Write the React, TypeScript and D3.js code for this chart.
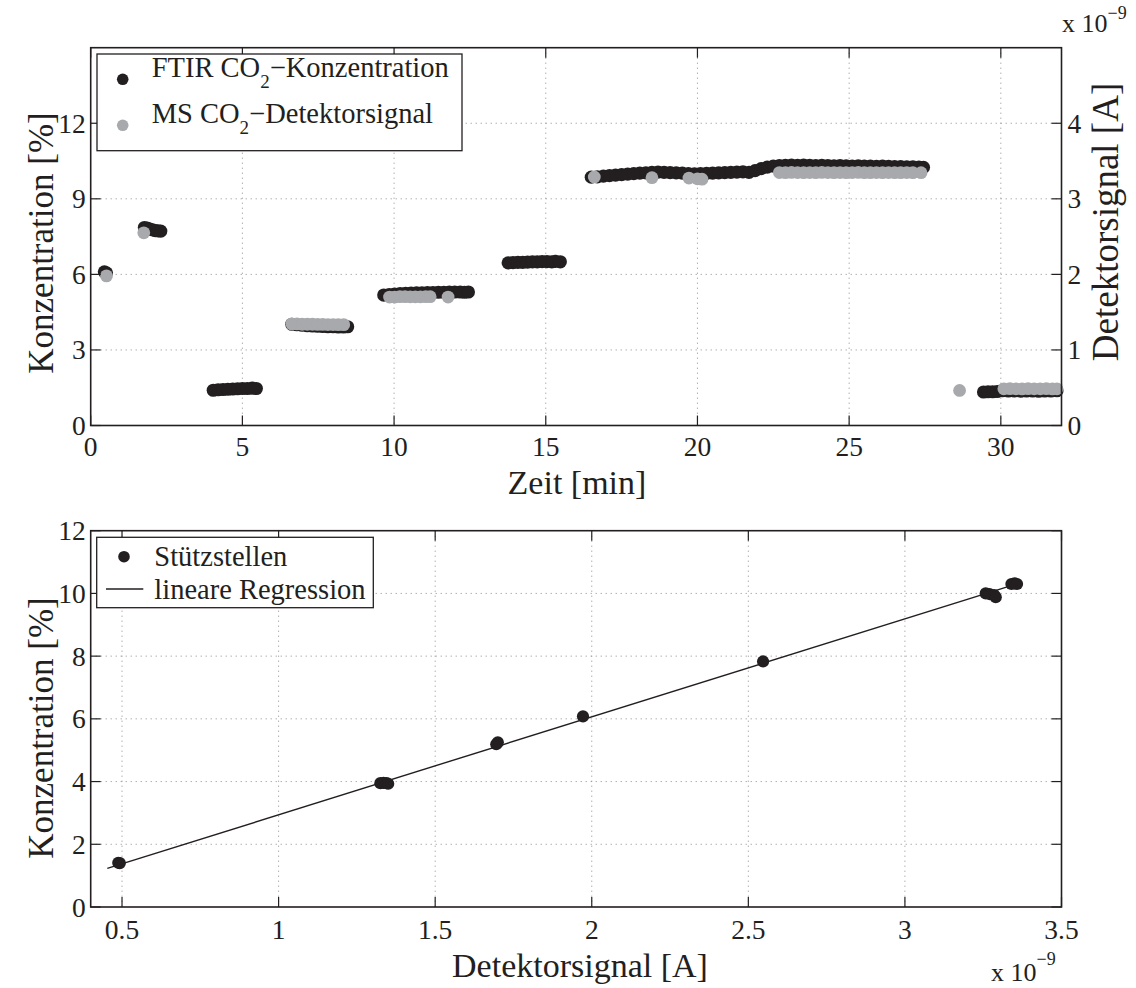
import React from 'react';
import * as d3 from 'd3';

// ---------- data ----------
const timeTicks = [0, 5, 10, 15, 20, 25, 30];
const concTicksTop = [0, 3, 6, 9, 12];
const signalTicksTop = [0, 1, 2, 3, 4];
const signalTicksBottom = [0.5, 1, 1.5, 2, 2.5, 3, 3.5];
const concTicksBottom = [0, 2, 4, 6, 8, 10, 12];

// FTIR CO2 concentration [%] over time [min]
const ftirPoints: [number, number][] = [
  [0.45, 6.1], [0.52, 6.06],
  [1.77, 7.86], [1.86, 7.84], [1.95, 7.8], [2.04, 7.77], [2.13, 7.74], [2.22, 7.73], [2.31, 7.72],
  [4.04, 1.4], [4.2, 1.42], [4.36, 1.43], [4.52, 1.44], [4.68, 1.45], [4.84, 1.46], [5.0, 1.47], [5.16, 1.47], [5.32, 1.48], [5.46, 1.47],
  [6.63, 4.02], [6.8, 4.0], [6.97, 3.98], [7.14, 3.96], [7.31, 3.95], [7.48, 3.94], [7.65, 3.93], [7.82, 3.92], [7.99, 3.92], [8.16, 3.91], [8.33, 3.91], [8.47, 3.92],
  [9.66, 5.18], [9.84, 5.2], [10.02, 5.22], [10.2, 5.24], [10.38, 5.25], [10.56, 5.26], [10.74, 5.27], [10.92, 5.27], [11.1, 5.28], [11.28, 5.28], [11.46, 5.29], [11.64, 5.29], [11.82, 5.3], [12.0, 5.3], [12.18, 5.3], [12.32, 5.29], [12.45, 5.3],
  [13.76, 6.46], [13.92, 6.47], [14.08, 6.48], [14.24, 6.48], [14.4, 6.49], [14.56, 6.5], [14.72, 6.5], [14.88, 6.51], [15.04, 6.51], [15.2, 6.5], [15.32, 6.52], [15.48, 6.5],
  [16.5, 9.86], [16.7, 9.87], [16.9, 9.9], [17.1, 9.92], [17.3, 9.94], [17.5, 9.96], [17.7, 9.98], [17.9, 10.0], [18.1, 10.02], [18.3, 10.03], [18.5, 10.05], [18.7, 10.06], [18.9, 10.05], [19.1, 10.04], [19.3, 10.03], [19.5, 10.02], [19.7, 10.0], [19.9, 9.99], [20.1, 10.0], [20.3, 10.01], [20.5, 10.02], [20.7, 10.03], [20.9, 10.04], [21.1, 10.05], [21.3, 10.06], [21.5, 10.07], [21.7, 10.05],
  [21.9, 10.12], [22.1, 10.2], [22.3, 10.26], [22.5, 10.3], [22.7, 10.32], [22.9, 10.33], [23.1, 10.34], [23.3, 10.33], [23.5, 10.34], [23.7, 10.33], [23.9, 10.32], [24.1, 10.33], [24.3, 10.32], [24.5, 10.31], [24.7, 10.32], [24.9, 10.31], [25.1, 10.3], [25.3, 10.31], [25.5, 10.3], [25.7, 10.3], [25.9, 10.29], [26.1, 10.3], [26.3, 10.29], [26.5, 10.28], [26.7, 10.28], [26.9, 10.27], [27.1, 10.27], [27.3, 10.26], [27.45, 10.25],
  [29.43, 1.33], [29.58, 1.34], [29.73, 1.34], [29.88, 1.35], [30.05, 1.38], [30.25, 1.37], [30.45, 1.37], [30.65, 1.36], [30.85, 1.37], [31.05, 1.37], [31.25, 1.36], [31.45, 1.37], [31.65, 1.37], [31.85, 1.38],
];

// MS CO2 detector signal [x1e-9 A] over time [min]
const msPoints: [number, number][] = [
  [0.52, 1.98], [1.75, 2.55],
  [6.63, 1.345], [6.8, 1.345], [6.97, 1.34], [7.14, 1.34], [7.31, 1.34], [7.48, 1.338], [7.65, 1.338], [7.82, 1.336], [7.99, 1.336], [8.16, 1.335], [8.34, 1.335],
  [9.85, 1.7], [10.02, 1.7], [10.19, 1.705], [10.36, 1.705], [10.53, 1.703], [10.7, 1.703], [10.87, 1.703], [11.04, 1.705], [11.19, 1.705], [11.78, 1.7],
  [16.6, 3.29], [18.5, 3.28], [19.72, 3.275], [20.0, 3.265], [20.15, 3.26],
  [22.7, 3.348], [22.9, 3.347], [23.1, 3.349], [23.3, 3.348], [23.5, 3.346], [23.7, 3.348], [23.9, 3.347], [24.1, 3.349], [24.3, 3.348], [24.5, 3.346], [24.7, 3.348], [24.9, 3.347], [25.1, 3.348], [25.3, 3.349], [25.5, 3.347], [25.7, 3.346], [25.9, 3.348], [26.1, 3.347], [26.3, 3.348], [26.5, 3.346], [26.7, 3.347], [26.9, 3.348], [27.1, 3.347], [27.37, 3.346],
  [28.64, 0.464],
  [30.1, 0.486], [30.3, 0.487], [30.5, 0.486], [30.7, 0.485], [30.9, 0.487], [31.1, 0.486], [31.3, 0.486], [31.5, 0.487], [31.7, 0.485], [31.85, 0.486],
];

// calibration points: detector signal [x1e-9 A] vs concentration [%]
const calibSignal = [0.488, 0.493, 1.325, 1.335, 1.345, 1.35, 1.695, 1.7, 1.972, 2.547, 3.258, 3.27, 3.285, 3.29, 3.34, 3.35, 3.358];
const calibConc = [1.41, 1.4, 3.95, 3.96, 3.95, 3.93, 5.19, 5.25, 6.08, 7.83, 10.0, 9.98, 9.95, 9.88, 10.3, 10.32, 10.3];

// linear regression: conc = slope * signal + intercept
const regressionSlope = 3.125;
const regressionIntercept = -0.186;
const regressionRange = [0.453, 3.36];

// ---------- styles ----------
const FONT = '"Liberation Serif", "Times New Roman", Times, serif';
const INK = '#231f20';
const GREY = '#a7a9ac';
const GRID = '#8c8c8c';

export default function App() {
  // top panel
  const L = 90.7, R = 1061.5;
  const xT = d3.scaleLinear().domain([0, 32]).range([L, R]);
  const yT = d3.scaleLinear().domain([0, 15]).range([425.5, 47.7]);
  const yTR = d3.scaleLinear().domain([0, 5]).range([425.5, 47.7]);
  // bottom panel
  const xB = d3.scaleLinear().domain([0.4, 3.5]).range([L, R]);
  const yB = d3.scaleLinear().domain([0, 12]).range([907, 530.7]);

  const tickLen = 10;
  const tickFont = 27.5;
  const labelFont = 34;
  const legendFont = 28.5;

  const regLine = d3.line<number>()
    .x((s) => xB(s))
    .y((s) => yB(regressionSlope * s + regressionIntercept));

  const [t0, t1] = yT.range().slice().reverse();
  const [b0, b1] = yB.range().slice().reverse();

  return (
    <svg
      width={1136}
      height={988}
      style={{ position: 'absolute', left: 0, top: 0, background: '#fff' }}
      fontFamily={FONT}
      fill={INK}
    >
      <rect x={0} y={0} width={1136} height={988} fill="#fff" />

      {/* ================= TOP PANEL ================= */}
      <g>
        {/* grid */}
        {timeTicks.filter((t) => t > 0).map((t) => (
          <line key={'gx' + t} x1={xT(t)} x2={xT(t)} y1={t0} y2={t1} stroke={GRID} strokeWidth={1} strokeDasharray="1 4" />
        ))}
        {concTicksTop.filter((c) => c > 0).map((c) => (
          <line key={'gy' + c} x1={L} x2={R} y1={yT(c)} y2={yT(c)} stroke={GRID} strokeWidth={1} strokeDasharray="1 4" />
        ))}

        {/* data */}
        {ftirPoints.map(([t, c], i) => (
          <circle key={'f' + i} cx={xT(t)} cy={yT(c)} r={6.6} fill={INK} />
        ))}
        {msPoints.map(([t, s], i) => (
          <circle key={'m' + i} cx={xT(t)} cy={yTR(s)} r={6.4} fill={GREY} />
        ))}

        {/* frame */}
        <rect x={L} y={t0} width={R - L} height={t1 - t0} fill="none" stroke={INK} strokeWidth={1.6} />

        {/* x ticks */}
        {timeTicks.map((t) => (
          <g key={'tx' + t}>
            <line x1={xT(t)} x2={xT(t)} y1={t1} y2={t1 - tickLen} stroke={INK} strokeWidth={1.2} />
            <line x1={xT(t)} x2={xT(t)} y1={t0} y2={t0 + tickLen} stroke={INK} strokeWidth={1.2} />
            <text x={xT(t)} y={t1 + 30.5} fontSize={tickFont} textAnchor="middle">{t}</text>
          </g>
        ))}
        {/* left y ticks */}
        {concTicksTop.map((c) => (
          <g key={'ty' + c}>
            <line x1={L} x2={L + tickLen} y1={yT(c)} y2={yT(c)} stroke={INK} strokeWidth={1.2} />
            <text x={L - 5} y={yT(c) + 9.5} fontSize={tickFont} textAnchor="end">{c}</text>
          </g>
        ))}
        {/* right y ticks */}
        {signalTicksTop.map((s) => (
          <g key={'tr' + s}>
            <line x1={R} x2={R - tickLen} y1={yTR(s)} y2={yTR(s)} stroke={INK} strokeWidth={1.2} />
            <text x={R + 6} y={yTR(s) + 9.5} fontSize={tickFont} textAnchor="start">{s}</text>
          </g>
        ))}

        {/* exponent */}
        <text x={1062} y={32} fontSize={26}>
          x 10<tspan fontSize={18} dy={-13}>−9</tspan>
        </text>

        {/* axis labels */}
        <text x={577} y={494} fontSize={labelFont} textAnchor="middle">Zeit [min]</text>
        <text transform="translate(53,243) rotate(-90)" fontSize={35} textAnchor="middle">Konzentration [%]</text>
        <text transform="translate(1118,222) rotate(-90)" fontSize={37} textAnchor="middle">Detektorsignal [A]</text>

        {/* legend */}
        <rect x={97} y={54} width={365} height={96.7} fill="#fff" stroke={INK} strokeWidth={1.3} />
        <circle cx={122.7} cy={79.3} r={5.8} fill={INK} />
        <circle cx={122.7} cy={125.3} r={5.8} fill={GREY} />
        <text x={151.7} y={77.3} fontSize={legendFont}>
          FTIR CO<tspan fontSize={19} dy={11}>2</tspan><tspan dy={-11}>−Konzentration</tspan>
        </text>
        <text x={151.7} y={123.3} fontSize={legendFont}>
          MS CO<tspan fontSize={19} dy={11}>2</tspan><tspan dy={-11}>−Detektorsignal</tspan>
        </text>
      </g>

      {/* ================= BOTTOM PANEL ================= */}
      <g>
        {signalTicksBottom.filter((s) => s < 3.5).map((s) => (
          <line key={'bgx' + s} x1={xB(s)} x2={xB(s)} y1={b0} y2={b1} stroke={GRID} strokeWidth={1} strokeDasharray="1 4" />
        ))}
        {concTicksBottom.filter((c) => c > 0 && c < 12).map((c) => (
          <line key={'bgy' + c} x1={L} x2={R} y1={yB(c)} y2={yB(c)} stroke={GRID} strokeWidth={1} strokeDasharray="1 4" />
        ))}

        <path d={regLine(regressionRange) || ''} fill="none" stroke={INK} strokeWidth={1.4} />
        {calibSignal.map((s, i) => (
          <circle key={'c' + i} cx={xB(s)} cy={yB(calibConc[i])} r={6.1} fill={INK} />
        ))}

        <rect x={L} y={b0} width={R - L} height={b1 - b0} fill="none" stroke={INK} strokeWidth={1.6} />

        {signalTicksBottom.map((s) => (
          <g key={'bx' + s}>
            <line x1={xB(s)} x2={xB(s)} y1={b1} y2={b1 - tickLen} stroke={INK} strokeWidth={1.2} />
            <line x1={xB(s)} x2={xB(s)} y1={b0} y2={b0 + tickLen} stroke={INK} strokeWidth={1.2} />
            <text x={xB(s)} y={b1 + 32} fontSize={tickFont} textAnchor="middle">{s}</text>
          </g>
        ))}
        {concTicksBottom.map((c) => (
          <g key={'by' + c}>
            <line x1={L} x2={L + tickLen} y1={yB(c)} y2={yB(c)} stroke={INK} strokeWidth={1.2} />
            <line x1={R} x2={R - tickLen} y1={yB(c)} y2={yB(c)} stroke={INK} strokeWidth={1.2} />
            <text x={L - 5} y={yB(c) + 9.5} fontSize={tickFont} textAnchor="end">{c}</text>
          </g>
        ))}

        <text x={991} y={981} fontSize={26}>
          x 10<tspan fontSize={18} dy={-16}>−9</tspan>
        </text>

        <text x={580} y={977} fontSize={labelFont} textAnchor="middle">Detektorsignal [A]</text>
        <text transform="translate(53,728) rotate(-90)" fontSize={35} textAnchor="middle">Konzentration [%]</text>

        {/* legend */}
        <rect x={96.7} y={537.3} width={276.6} height={70.4} fill="#fff" stroke={INK} strokeWidth={1.3} />
        <circle cx={124} cy={556.7} r={5.8} fill={INK} />
        <line x1={106} x2={143.3} y1={589} y2={589} stroke={INK} strokeWidth={1.4} />
        <text x={154.3} y={565.7} fontSize={legendFont}>Stützstellen</text>
        <text x={154.3} y={599} fontSize={legendFont}>lineare Regression</text>
      </g>
    </svg>
  );
}
